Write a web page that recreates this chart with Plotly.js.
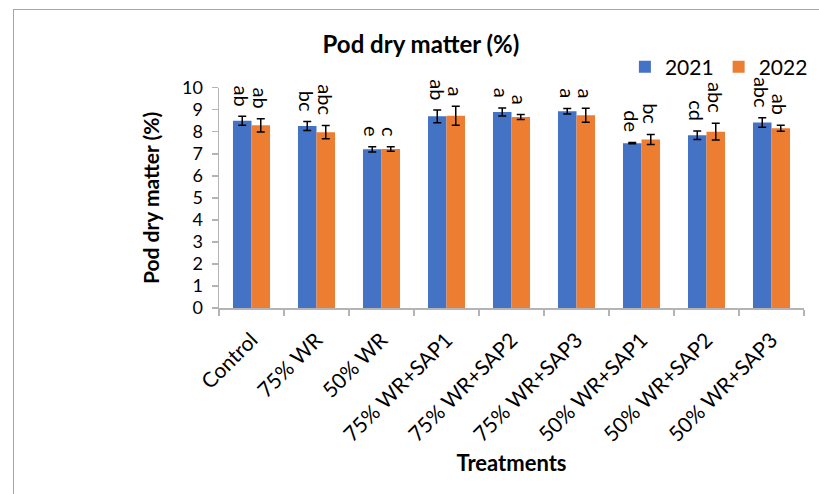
<!DOCTYPE html>
<html>
<head>
<meta charset="utf-8">
<script src="https://cdn.plot.ly/plotly-3.0.1.min.js"></script>
<style>
  html, body { margin: 0; padding: 0; background: #fff; }
  #wrap { position: relative; width: 819px; height: 494px; }
  #chart { width: 819px; height: 494px; }
  #frame { position: absolute; left: 13px; top: 9px; right: -2px; bottom: -2px;
           border-left: 1.5px solid #a6a6a6; border-top: 1.5px solid #a6a6a6; pointer-events: none; }
</style>
</head>
<body>
<div id="wrap"><div id="chart"></div><div id="frame"></div></div>
<script>
const treatments = ["Control", "75% WR", "50% WR", "75% WR+SAP1", "75% WR+SAP2",
                    "75% WR+SAP3", "50% WR+SAP1", "50% WR+SAP2", "50% WR+SAP3"];
const y2021 = [8.50, 8.26, 7.20, 8.70, 8.90, 8.93, 7.48, 7.84, 8.42];
const err2021 = [0.20, 0.20, 0.12, 0.29, 0.18, 0.13, 0.03, 0.19, 0.22];
const y2022 = [8.29, 7.98, 7.22, 8.73, 8.67, 8.75, 7.65, 8.00, 8.16];
const err2022 = [0.30, 0.30, 0.10, 0.43, 0.11, 0.32, 0.23, 0.38, 0.14];
const letters2021 = ["ab", "bc", "e", "ab", "a", "a", "de", "cd", "abc"];
const letters2022 = ["ab", "abc", "c", "a", "a", "a", "bc", "abc", "ab"];

const FONT = "Lato, 'Open Sans', sans-serif";
const blue = "#4472C4", orange = "#ED7D31";
const bargap = 0.43;
const half = (1 - bargap) / 4; // center offset of each bar in a pair

const traces = [
  { type: "bar", name: "2021", x: treatments, y: y2021, marker: { color: blue },
    error_y: { type: "data", array: err2021, visible: true, color: "#000", thickness: 1.5, width: 4 } },
  { type: "bar", name: "2022", x: treatments, y: y2022, marker: { color: orange },
    error_y: { type: "data", array: err2022, visible: true, color: "#000", thickness: 1.5, width: 4 } }
];

const annotations = [];
treatments.forEach((t, i) => {
  annotations.push({ x: i - half, y: y2021[i] + err2021[i], xref: "x", yref: "y", text: letters2021[i],
    showarrow: false, textangle: 90, yanchor: "bottom", xanchor: "center", yshift: 8,
    font: { family: FONT, size: 20, color: "#000" } });
  annotations.push({ x: i + half, y: y2022[i] + err2022[i], xref: "x", yref: "y", text: letters2022[i],
    showarrow: false, textangle: 90, yanchor: "bottom", xanchor: "center", yshift: 8,
    font: { family: FONT, size: 20, color: "#000" } });
});

const layout = {
  width: 819, height: 494,
  margin: { l: 219, r: 15, t: 86, b: 186 },
  paper_bgcolor: "#fff", plot_bgcolor: "#fff",
  font: { family: FONT, size: 20, color: "#000" },
  barmode: "group", bargap: bargap, bargroupgap: 0,
  showlegend: true,
  title: { text: "<b>Pod dry matter (%)</b>", x: 0.514, xanchor: "center", y: 0.91, yanchor: "middle",
           font: { family: FONT, size: 24, color: "#000" } },
  legend: { orientation: "h", xref: "container", yref: "container", x: 0.763, xanchor: "left",
            y: 0.864, yanchor: "middle",
            font: { family: FONT, size: 21, color: "#000" }, itemwidth: 30, traceorder: "normal",
            bgcolor: "rgba(0,0,0,0)" },
  xaxis: {
    type: "category", tickangle: -45, showline: true, linecolor: "#b4b4b4", linewidth: 1.5,
    ticks: "outside", tickson: "boundaries", ticklen: 6, tickcolor: "#b4b4b4", tickwidth: 1.5,
    ticklabelstandoff: 10,
    showgrid: false, tickfont: { family: FONT, size: 21, color: "#000" },
    title: { text: "<b>Treatments</b>", font: { family: FONT, size: 22, color: "#000" }, standoff: 10 },
    automargin: false
  },
  yaxis: {
    range: [0, 10], dtick: 1, showline: true, linecolor: "#b4b4b4", linewidth: 1.5,
    ticks: "outside", ticklen: 6, tickcolor: "#b4b4b4", tickwidth: 1.5, showgrid: false, zeroline: false,
    ticklabelstandoff: 5,
    tickfont: { family: FONT, size: 18, color: "#000" },
    title: { text: "<b>Pod dry matter (%)</b>", font: { family: FONT, size: 21, color: "#000" }, standoff: 16 },
    automargin: false
  },
  annotations: annotations
};

Plotly.newPlot("chart", traces, layout, { displayModeBar: false, staticPlot: true });
</script>
</body>
</html>
